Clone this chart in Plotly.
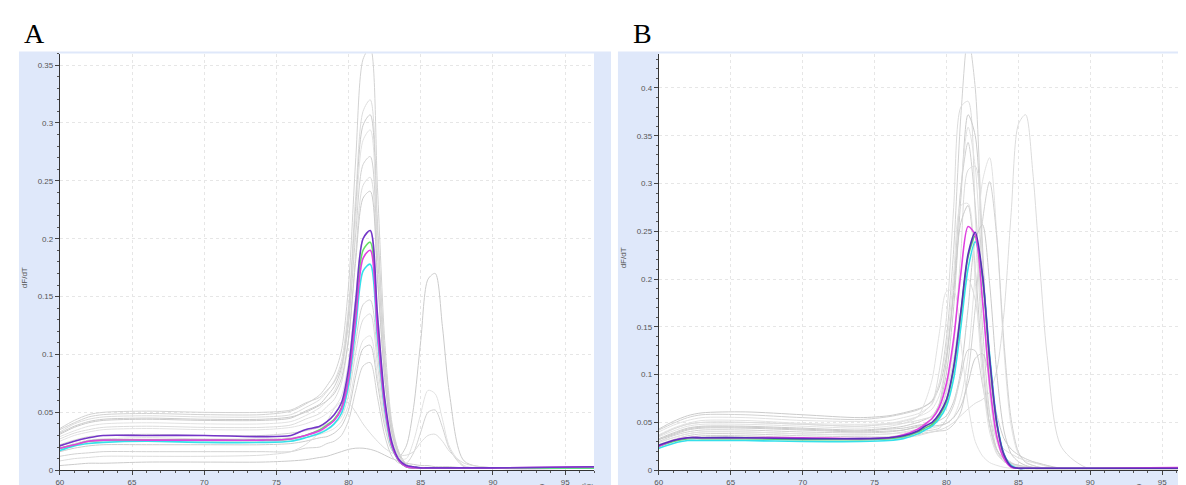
import plotly.graph_objects as go

# ---------------- data ----------------
TEMP = [60, 61, 62, 63, 66, 70, 74, 76, 77, 78, 78.5, 79, 79.5, 80, 80.5, 81, 81.5, 82,
        82.5, 83, 83.5, 84, 84.5, 85, 85.5, 86, 86.5, 87, 88, 90, 97]

X_TICKS = [60, 65, 70, 75, 80, 85, 90, 95]
Y_TICKS_A = [0, 0.05, 0.1, 0.15, 0.2, 0.25, 0.3, 0.35]
Y_TICKS_B = [0, 0.05, 0.1, 0.15, 0.2, 0.25, 0.3, 0.35, 0.4]

# Panel A - grey background samples
A_G1 = [0.035, 0.041, 0.046, 0.048, 0.049, 0.048, 0.048, 0.051, 0.057, 0.065, 0.073, 0.083, 0.103, 0.160, 0.270, 0.355, 0.365, 0.244, 0.112, 0.041, 0.015, 0.005, 0.003, 0.002, 0.002, 0.002, 0.002, 0.002, 0.002, 0.002, 0.002]
A_G2 = [0.033, 0.040, 0.044, 0.046, 0.047, 0.046, 0.046, 0.048, 0.054, 0.061, 0.068, 0.077, 0.094, 0.142, 0.238, 0.310, 0.320, 0.215, 0.101, 0.037, 0.015, 0.005, 0.003, 0.002, 0.002, 0.002, 0.002, 0.002, 0.002, 0.002, 0.002]
A_G3 = [0.031, 0.037, 0.041, 0.043, 0.044, 0.043, 0.043, 0.045, 0.051, 0.057, 0.064, 0.072, 0.088, 0.135, 0.228, 0.298, 0.307, 0.207, 0.095, 0.036, 0.014, 0.005, 0.003, 0.002, 0.002, 0.002, 0.002, 0.002, 0.002, 0.002, 0.002]
A_G4 = [0.029, 0.034, 0.038, 0.040, 0.041, 0.040, 0.040, 0.042, 0.047, 0.054, 0.060, 0.068, 0.084, 0.128, 0.218, 0.285, 0.294, 0.198, 0.091, 0.033, 0.013, 0.004, 0.003, 0.002, 0.002, 0.002, 0.002, 0.002, 0.002, 0.002, 0.002]
A_G5 = [0.036, 0.043, 0.048, 0.050, 0.051, 0.050, 0.050, 0.052, 0.058, 0.063, 0.069, 0.076, 0.090, 0.128, 0.205, 0.264, 0.271, 0.185, 0.091, 0.037, 0.015, 0.005, 0.003, 0.002, 0.002, 0.002, 0.002, 0.002, 0.002, 0.002, 0.002]
A_G6 = [0.027, 0.032, 0.035, 0.037, 0.038, 0.037, 0.037, 0.039, 0.044, 0.049, 0.055, 0.061, 0.075, 0.113, 0.188, 0.246, 0.253, 0.170, 0.080, 0.030, 0.011, 0.004, 0.003, 0.002, 0.002, 0.002, 0.002, 0.002, 0.002, 0.002, 0.002]
A_G7 = [0.032, 0.038, 0.042, 0.044, 0.045, 0.044, 0.044, 0.046, 0.050, 0.056, 0.060, 0.066, 0.079, 0.114, 0.182, 0.235, 0.241, 0.165, 0.080, 0.032, 0.013, 0.004, 0.003, 0.002, 0.002, 0.002, 0.002, 0.002, 0.002, 0.002, 0.002]
A_G8 = [0.025, 0.030, 0.033, 0.035, 0.036, 0.035, 0.035, 0.037, 0.040, 0.045, 0.049, 0.054, 0.064, 0.094, 0.152, 0.200, 0.206, 0.138, 0.065, 0.026, 0.011, 0.004, 0.003, 0.002, 0.002, 0.002, 0.002, 0.002, 0.002, 0.002, 0.002]
A_G9 = [0.022, 0.026, 0.029, 0.030, 0.031, 0.030, 0.030, 0.032, 0.034, 0.037, 0.040, 0.044, 0.051, 0.071, 0.112, 0.143, 0.147, 0.100, 0.050, 0.021, 0.009, 0.003, 0.002, 0.002, 0.002, 0.002, 0.002, 0.002, 0.002, 0.002, 0.002]
A_G10 = [0.019, 0.023, 0.026, 0.027, 0.028, 0.027, 0.027, 0.028, 0.030, 0.033, 0.036, 0.040, 0.046, 0.065, 0.102, 0.130, 0.135, 0.091, 0.045, 0.019, 0.008, 0.003, 0.002, 0.002, 0.002, 0.002, 0.002, 0.002, 0.002, 0.002, 0.002]
A_G11 = [0.016, 0.019, 0.021, 0.022, 0.022, 0.022, 0.022, 0.023, 0.025, 0.028, 0.029, 0.032, 0.038, 0.052, 0.082, 0.105, 0.108, 0.075, 0.038, 0.017, 0.012, 0.021, 0.054, 0.112, 0.165, 0.170, 0.124, 0.065, 0.008, 0.002, 0.002]
A_G12 = [0.018, 0.022, 0.024, 0.025, 0.026, 0.025, 0.025, 0.026, 0.028, 0.031, 0.033, 0.036, 0.042, 0.057, 0.089, 0.112, 0.116, 0.081, 0.041, 0.018, 0.010, 0.010, 0.025, 0.049, 0.069, 0.066, 0.044, 0.020, 0.004, 0.002, 0.002]
A_G13 = [0.012, 0.014, 0.015, 0.016, 0.016, 0.016, 0.016, 0.016, 0.019, 0.020, 0.023, 0.025, 0.030, 0.043, 0.069, 0.090, 0.093, 0.063, 0.030, 0.012, 0.006, 0.006, 0.015, 0.033, 0.050, 0.052, 0.037, 0.018, 0.003, 0.002, 0.002]
A_G14 = [0.008, 0.010, 0.011, 0.012, 0.012, 0.012, 0.013, 0.016, 0.022, 0.033, 0.042, 0.053, 0.059, 0.058, 0.050, 0.040, 0.032, 0.025, 0.019, 0.015, 0.013, 0.013, 0.016, 0.024, 0.030, 0.031, 0.025, 0.016, 0.006, 0.002, 0.002]
A_G15 = [0.004, 0.005, 0.006, 0.006, 0.007, 0.007, 0.007, 0.008, 0.009, 0.011, 0.012, 0.014, 0.016, 0.018, 0.019, 0.019, 0.018, 0.016, 0.013, 0.010, 0.008, 0.006, 0.005, 0.004, 0.004, 0.003, 0.003, 0.003, 0.002, 0.002, 0.002]

# Panel A - highlighted samples
A_CYAN = [0.017, 0.021, 0.023, 0.024, 0.025, 0.024, 0.024, 0.025, 0.028, 0.032, 0.035, 0.040, 0.049, 0.074, 0.124, 0.172, 0.178, 0.114, 0.053, 0.020, 0.008, 0.003, 0.002, 0.002, 0.002, 0.002, 0.002, 0.002, 0.002, 0.002, 0.002]
A_GREEN = [0.019, 0.022, 0.025, 0.026, 0.026, 0.026, 0.026, 0.027, 0.030, 0.035, 0.039, 0.044, 0.054, 0.082, 0.139, 0.190, 0.197, 0.126, 0.058, 0.021, 0.008, 0.003, 0.002, 0.002, 0.002, 0.002, 0.002, 0.002, 0.002, 0.002, 0.002]
A_MAGENTA = [0.019, 0.022, 0.025, 0.026, 0.026, 0.026, 0.026, 0.027, 0.030, 0.034, 0.038, 0.043, 0.053, 0.079, 0.132, 0.183, 0.190, 0.120, 0.056, 0.021, 0.008, 0.003, 0.002, 0.002, 0.002, 0.002, 0.002, 0.002, 0.002, 0.002, 0.003]
A_PURPLE = [0.021, 0.025, 0.028, 0.030, 0.030, 0.030, 0.029, 0.030, 0.035, 0.038, 0.042, 0.048, 0.058, 0.088, 0.147, 0.200, 0.207, 0.134, 0.062, 0.024, 0.009, 0.004, 0.003, 0.002, 0.002, 0.002, 0.002, 0.002, 0.002, 0.002, 0.003]

# Panel B - grey background samples
B_G1 = [0.042, 0.049, 0.055, 0.058, 0.058, 0.055, 0.053, 0.056, 0.059, 0.063, 0.067, 0.073, 0.091, 0.139, 0.231, 0.371, 0.454, 0.400, 0.237, 0.099, 0.035, 0.015, 0.008, 0.005, 0.004, 0.003, 0.002, 0.002, 0.001, 0.001, 0.001]
B_G2 = [0.036, 0.043, 0.048, 0.050, 0.050, 0.048, 0.046, 0.049, 0.051, 0.056, 0.062, 0.070, 0.104, 0.160, 0.275, 0.380, 0.386, 0.268, 0.127, 0.047, 0.018, 0.009, 0.006, 0.004, 0.003, 0.002, 0.001, 0.001, 0.001, 0.001, 0.001]
B_G3 = [0.033, 0.039, 0.044, 0.046, 0.046, 0.044, 0.042, 0.044, 0.046, 0.050, 0.053, 0.057, 0.069, 0.102, 0.171, 0.285, 0.372, 0.350, 0.225, 0.098, 0.036, 0.014, 0.007, 0.005, 0.003, 0.002, 0.001, 0.001, 0.001, 0.001, 0.001]
B_G4 = [0.037, 0.044, 0.049, 0.052, 0.052, 0.049, 0.048, 0.049, 0.052, 0.056, 0.059, 0.064, 0.078, 0.115, 0.186, 0.295, 0.359, 0.317, 0.189, 0.080, 0.029, 0.013, 0.007, 0.005, 0.003, 0.002, 0.002, 0.001, 0.001, 0.001, 0.001]
B_G5 = [0.030, 0.036, 0.040, 0.042, 0.042, 0.040, 0.039, 0.040, 0.042, 0.046, 0.049, 0.055, 0.070, 0.115, 0.193, 0.295, 0.343, 0.277, 0.151, 0.060, 0.022, 0.009, 0.006, 0.004, 0.002, 0.002, 0.001, 0.001, 0.001, 0.001, 0.001]
B_G6 = [0.029, 0.034, 0.038, 0.040, 0.040, 0.038, 0.037, 0.038, 0.040, 0.043, 0.046, 0.050, 0.057, 0.085, 0.131, 0.227, 0.314, 0.318, 0.221, 0.104, 0.038, 0.014, 0.008, 0.004, 0.003, 0.002, 0.001, 0.001, 0.001, 0.001, 0.001]
B_G7 = [0.043, 0.051, 0.057, 0.060, 0.061, 0.058, 0.055, 0.057, 0.060, 0.064, 0.067, 0.072, 0.087, 0.120, 0.186, 0.259, 0.277, 0.211, 0.112, 0.048, 0.021, 0.012, 0.007, 0.005, 0.003, 0.002, 0.002, 0.001, 0.001, 0.001, 0.001]
B_G8 = [0.029, 0.034, 0.038, 0.040, 0.040, 0.038, 0.037, 0.038, 0.039, 0.042, 0.043, 0.044, 0.046, 0.049, 0.056, 0.076, 0.119, 0.206, 0.302, 0.327, 0.246, 0.124, 0.046, 0.017, 0.009, 0.005, 0.003, 0.002, 0.001, 0.001, 0.001]
B_G9 = [0.026, 0.031, 0.034, 0.036, 0.036, 0.034, 0.033, 0.034, 0.036, 0.037, 0.039, 0.040, 0.041, 0.042, 0.048, 0.061, 0.101, 0.170, 0.260, 0.302, 0.243, 0.133, 0.053, 0.019, 0.008, 0.005, 0.003, 0.002, 0.001, 0.001, 0.001]
B_G10 = [0.025, 0.030, 0.033, 0.035, 0.035, 0.033, 0.032, 0.033, 0.034, 0.036, 0.038, 0.040, 0.042, 0.045, 0.050, 0.057, 0.064, 0.070, 0.074, 0.082, 0.105, 0.165, 0.270, 0.362, 0.372, 0.312, 0.212, 0.120, 0.024, 0.001, 0.001]
B_G11 = [0.032, 0.038, 0.043, 0.045, 0.045, 0.043, 0.041, 0.043, 0.044, 0.047, 0.048, 0.049, 0.052, 0.057, 0.072, 0.104, 0.169, 0.240, 0.257, 0.195, 0.101, 0.041, 0.017, 0.009, 0.005, 0.003, 0.002, 0.002, 0.001, 0.001, 0.001]
B_G12 = [0.035, 0.041, 0.046, 0.048, 0.048, 0.046, 0.044, 0.046, 0.049, 0.056, 0.071, 0.095, 0.143, 0.187, 0.188, 0.134, 0.069, 0.030, 0.015, 0.008, 0.005, 0.003, 0.002, 0.002, 0.001, 0.001, 0.001, 0.001, 0.001, 0.001, 0.001]
B_G13 = [0.027, 0.032, 0.036, 0.038, 0.038, 0.036, 0.035, 0.035, 0.037, 0.039, 0.041, 0.042, 0.044, 0.053, 0.068, 0.098, 0.126, 0.125, 0.090, 0.048, 0.022, 0.011, 0.007, 0.004, 0.003, 0.002, 0.001, 0.001, 0.001, 0.001, 0.001]
B_G14 = [0.036, 0.043, 0.048, 0.050, 0.050, 0.048, 0.046, 0.048, 0.049, 0.052, 0.054, 0.056, 0.063, 0.081, 0.116, 0.168, 0.200, 0.178, 0.114, 0.058, 0.032, 0.022, 0.017, 0.013, 0.010, 0.008, 0.006, 0.004, 0.002, 0.001, 0.001]
B_G15 = [0.032, 0.037, 0.042, 0.044, 0.044, 0.042, 0.040, 0.041, 0.042, 0.045, 0.046, 0.046, 0.047, 0.049, 0.055, 0.067, 0.091, 0.117, 0.122, 0.096, 0.058, 0.033, 0.022, 0.016, 0.012, 0.009, 0.007, 0.005, 0.002, 0.001, 0.001]
B_G16 = [0.040, 0.047, 0.052, 0.055, 0.055, 0.052, 0.051, 0.052, 0.055, 0.059, 0.063, 0.069, 0.091, 0.129, 0.206, 0.277, 0.279, 0.197, 0.098, 0.040, 0.017, 0.009, 0.006, 0.004, 0.003, 0.002, 0.001, 0.001, 0.001, 0.001, 0.001]

# Panel B - highlighted samples
B_CYAN = [0.023, 0.028, 0.031, 0.031, 0.031, 0.030, 0.030, 0.031, 0.033, 0.038, 0.042, 0.046, 0.054, 0.067, 0.096, 0.150, 0.211, 0.239, 0.203, 0.121, 0.051, 0.017, 0.005, 0.002, 0.002, 0.002, 0.002, 0.002, 0.002, 0.002, 0.002]
B_GREEN = [0.025, 0.030, 0.033, 0.033, 0.033, 0.032, 0.032, 0.033, 0.035, 0.040, 0.044, 0.048, 0.057, 0.072, 0.106, 0.163, 0.223, 0.245, 0.202, 0.115, 0.048, 0.016, 0.004, 0.002, 0.002, 0.002, 0.002, 0.002, 0.002, 0.002, 0.002]
B_MAGENTA = [0.025, 0.031, 0.034, 0.034, 0.034, 0.034, 0.033, 0.034, 0.037, 0.043, 0.048, 0.054, 0.066, 0.091, 0.138, 0.206, 0.255, 0.246, 0.178, 0.090, 0.035, 0.012, 0.003, 0.002, 0.002, 0.002, 0.002, 0.002, 0.002, 0.002, 0.003]
B_PURPLE = [0.026, 0.031, 0.034, 0.034, 0.034, 0.033, 0.033, 0.034, 0.036, 0.041, 0.046, 0.050, 0.059, 0.074, 0.108, 0.166, 0.226, 0.249, 0.205, 0.117, 0.049, 0.016, 0.004, 0.002, 0.002, 0.002, 0.002, 0.002, 0.002, 0.002, 0.002]

A_GRAY = [A_G1, A_G2, A_G3, A_G4, A_G5, A_G6, A_G7, A_G8, A_G9, A_G10, A_G11, A_G12, A_G13, A_G14, A_G15]
B_GRAY = [B_G1, B_G2, B_G3, B_G4, B_G5, B_G6, B_G7, B_G8, B_G9, B_G10, B_G11, B_G12, B_G13, B_G14, B_G15, B_G16]
A_COLORED = [(A_CYAN, "#35e0ea"), (A_GREEN, "#66e066"), (A_MAGENTA, "#e040e0"), (A_PURPLE, "#7335c8")]
B_COLORED = [(B_CYAN, "#35e0ea"), (B_GREEN, "#55d075"), (B_MAGENTA, "#e040e0"), (B_PURPLE, "#5a2fb8")]

# ---------------- layout helpers ----------------
W, H = 1186, 485
def px(x):
    return x / W
def py(y):
    return 1 - y / H

GREYS = ["#d2d2d2", "#dcdcdc", "#cbcbcb", "#e2e2e2"]

fig = go.Figure()

for xa, ya, greys, colored in (("x", "y", A_GRAY, A_COLORED), ("x2", "y2", B_GRAY, B_COLORED)):
    for i, arr in enumerate(greys):
        fig.add_trace(go.Scatter(
            x=TEMP, y=arr, mode="lines", xaxis=xa, yaxis=ya,
            line=dict(color=GREYS[i % len(GREYS)], width=1, shape="spline", smoothing=0.8),
            showlegend=False, hoverinfo="skip"))
    for arr, col in colored:
        fig.add_trace(go.Scatter(
            x=TEMP, y=arr, mode="lines", xaxis=xa, yaxis=ya,
            line=dict(color=col, width=1.6, shape="spline", smoothing=0.8),
            showlegend=False, hoverinfo="skip"))

tickfont = dict(family="Liberation Sans, Arial, sans-serif", size=8, color="#555555")
axis_common = dict(
    showline=True, linecolor="#333333", linewidth=1,
    ticks="outside", ticklen=4, tickcolor="#444444", tickwidth=1,
    tickfont=tickfont, showgrid=True, gridcolor="#e6e6e6", griddash="dot",
    gridwidth=1, zeroline=False, fixedrange=True,
)

fig.update_layout(
    width=W, height=H,
    margin=dict(l=0, r=0, t=0, b=0),
    paper_bgcolor="white", plot_bgcolor="rgba(0,0,0,0)",
    xaxis=dict(axis_common, domain=[px(48), px(584)], range=[60, 97], tickvals=X_TICKS,
               anchor="y", minor=dict(ticks="outside", ticklen=2, tickcolor="#555555", dtick=1, tick0=60, showgrid=False)),
    yaxis=dict(axis_common, domain=[py(467), py(46)], range=[0, 0.36], tickvals=Y_TICKS_A,
               anchor="x", minor=dict(ticks="outside", ticklen=2, tickcolor="#555555", dtick=0.01, tick0=0, showgrid=False)),
    xaxis2=dict(axis_common, domain=[px(649), px(1183)], range=[60, 97], tickvals=X_TICKS,
                anchor="y2", minor=dict(ticks="outside", ticklen=2, tickcolor="#555555", dtick=1, tick0=60, showgrid=False)),
    yaxis2=dict(axis_common, domain=[py(467), py(46)], range=[0, 0.436], tickvals=Y_TICKS_B,
                anchor="x2", minor=dict(ticks="outside", ticklen=2, tickcolor="#555555", dtick=0.01, tick0=0, showgrid=False)),
    shapes=[
        dict(type="rect", xref="paper", yref="paper", x0=px(7), x1=px(601), y0=0, y1=py(44),
             fillcolor="#dfe8fa", line=dict(width=0), layer="below"),
        dict(type="rect", xref="paper", yref="paper", x0=px(48), x1=px(584), y0=py(467), y1=py(46),
             fillcolor="white", line=dict(width=0), layer="below"),
        dict(type="rect", xref="paper", yref="paper", x0=px(608), x1=1, y0=0, y1=py(44),
             fillcolor="#dfe8fa", line=dict(width=0), layer="below"),
        dict(type="rect", xref="paper", yref="paper", x0=px(649), x1=px(1183), y0=py(467), y1=py(46),
             fillcolor="white", line=dict(width=0), layer="below"),
    ],
    annotations=[
        dict(text="A", xref="paper", yref="paper", x=px(10), y=py(26), xanchor="left", yanchor="middle",
             showarrow=False, font=dict(family="Liberation Serif, Times New Roman, serif", size=28, color="black")),
        dict(text="B", xref="paper", yref="paper", x=px(621), y=py(26), xanchor="left", yanchor="middle",
             showarrow=False, font=dict(family="Liberation Serif, Times New Roman, serif", size=28, color="black")),
        dict(text="dF/dT", xref="paper", yref="paper", x=px(12), y=py(272), xanchor="center", yanchor="middle",
             textangle=-90, showarrow=False, font=dict(tickfont)),
        dict(text="dF/dT", xref="paper", yref="paper", x=px(613), y=py(252), xanchor="center", yanchor="middle",
             textangle=-90, showarrow=False, font=dict(tickfont)),
        dict(text="Temperature (°C)", xref="paper", yref="paper", x=px(586), y=py(484), xanchor="right", yanchor="middle",
             showarrow=False, font=dict(family="Liberation Sans, Arial, sans-serif", size=7, color="#555555")),
        dict(text="Temperature (°C)", xref="paper", yref="paper", x=px(1185), y=py(484), xanchor="right", yanchor="middle",
             showarrow=False, font=dict(family="Liberation Sans, Arial, sans-serif", size=7, color="#555555")),
    ],
)

fig.write_html("out.html")
